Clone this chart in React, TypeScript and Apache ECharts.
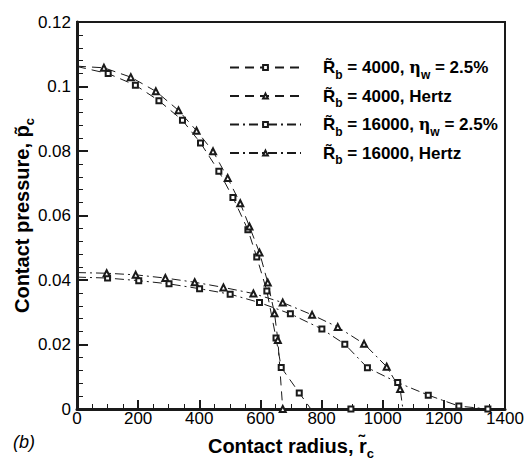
import React, { useEffect, useRef } from "react";
import * as echarts from "echarts";

// ---------- data ----------
const xTicks = [0, 200, 400, 600, 800, 1000, 1200, 1400];
const yTicks = [0, 0.02, 0.04, 0.06, 0.08, 0.1, 0.12];

// R_b = 4000, eta_w = 2.5%
const s1x = [0, 102, 191, 268, 345, 404, 464, 510, 559, 588, 621, 651, 668, 727, 765, 896];
const s1y = [0.1062, 0.104, 0.1004, 0.0956, 0.0895, 0.0825, 0.0737, 0.0656, 0.0556, 0.0471, 0.0366, 0.022, 0.0129, 0.005, 0, 0];
const s1m = [false, true, true, true, true, true, true, true, true, true, true, true, true, true, false, true];

// R_b = 4000, Hertz
const s2x = [0, 88, 176, 258, 332, 391, 445, 493, 534, 564, 597, 624, 646, 657, 673];
const s2y = [0.1063, 0.1058, 0.1029, 0.0985, 0.0926, 0.0863, 0.0799, 0.0716, 0.0638, 0.0566, 0.0485, 0.0392, 0.0297, 0.0214, 0];
const s2m = [false, true, true, true, true, true, true, true, true, true, true, true, true, true, true];

// R_b = 16000, eta_w = 2.5%
const s3x = [0, 100, 202, 301, 401, 501, 597, 698, 801, 876, 950, 1049, 1149, 1249, 1344];
const s3y = [0.0409, 0.0406, 0.0398, 0.0388, 0.0373, 0.0356, 0.033, 0.0295, 0.0248, 0.0201, 0.0128, 0.0082, 0.0043, 0.0009, 0];
const s3m = [false, true, true, true, true, true, true, true, true, true, true, true, true, true, true];

// R_b = 16000, Hertz
const s4x = [0, 97, 192, 289, 385, 479, 577, 673, 769, 853, 939, 1013, 1057, 1066];
const s4y = [0.0423, 0.0421, 0.0416, 0.0406, 0.0393, 0.0377, 0.0358, 0.033, 0.0292, 0.0254, 0.0202, 0.0131, 0.0062, 0];
const s4m = [false, true, true, true, true, true, true, true, true, true, true, true, true, false];

const legendLabels: Record<string, string> = {
  a: "{r0|R\u0303}{sub|b}{t| = 4000, }{eta|\u03b7}{sub|w}{t| = 2.5%}",
  b: "{r0|R\u0303}{sub|b}{t| = 4000, Hertz}",
  c: "{r0|R\u0303}{sub|b}{t| = 16000, }{eta|\u03b7}{sub|w}{t| = 2.5%}",
  d: "{r0|R\u0303}{sub|b}{t| = 16000, Hertz}",
};

const FONT = "'Liberation Sans', Arial, Helvetica, sans-serif";
const INK = "#1a1a1a";

function build(xs: number[], ys: number[], ms: boolean[]) {
  return xs.map((x, i) =>
    ms[i] ? { value: [x, ys[i]] } : { value: [x, ys[i]], symbol: "none" }
  );
}

export default function App() {
  const ref = useRef<HTMLDivElement>(null);

  useEffect(() => {
    if (!ref.current) return;
    const chart = echarts.init(ref.current, undefined, { renderer: "svg" });

    const dashed = [9, 6];
    const dashDot = [9, 4, 2, 4];

    const mk = (
      name: string,
      xs: number[],
      ys: number[],
      ms: boolean[],
      symbol: string,
      type: number[]
    ) => ({
      name,
      type: "line",
      data: build(xs, ys, ms),
      symbol,
      symbolSize: symbol === "emptyRect" ? 5 : 6,
      showSymbol: true,
      lineStyle: { color: INK, width: 1, type },
      itemStyle: { color: INK, borderColor: INK, borderWidth: 1 },
      emphasis: { disabled: true },
      z: 3,
    });

    const legendRich = {
      r0: {
        fontFamily: FONT,
        fontSize: 17,
        fontWeight: "bold",
        lineHeight: 26,
        padding: [0, 0, 0, 17],
        color: "#000",
      },
      t: {
        fontFamily: FONT,
        fontSize: 17,
        fontWeight: "bold",
        lineHeight: 26,
        color: "#000",
      },
      eta: {
        fontFamily: "'DejaVu Serif', serif",
        fontSize: 16,
        lineHeight: 26,
        color: "#000",
      },
      sub: {
        fontFamily: FONT,
        fontSize: 12,
        fontWeight: "bold",
        lineHeight: 12,
        verticalAlign: "bottom",
        color: "#000",
      },
    };

    const nameRich = {
      t: {
        fontFamily: FONT,
        fontSize: 20,
        fontWeight: "bold",
        lineHeight: 28,
        color: "#000",
      },
      sub: {
        fontFamily: FONT,
        fontSize: 13,
        fontWeight: "bold",
        lineHeight: 13,
        verticalAlign: "bottom",
        color: "#000",
      },
    };

    chart.setOption({
      animation: false,
      backgroundColor: "#ffffff",
      grid: {
        left: 77,
        right: 22,
        top: 22,
        bottom: 53,
        show: true,
        borderColor: INK,
        borderWidth: 2,
        containLabel: false,
        outerBoundsMode: "none",
      },
      legend: {
        orient: "vertical",
        left: 224,
        top: 54,
        itemWidth: 71,
        itemHeight: 6,
        itemGap: 7,
        selectedMode: false,
        data: ["a", "b", "c", "d"],
        formatter: (n: string) => legendLabels[n],
        textStyle: {
          color: "#000",
          fontFamily: FONT,
          fontSize: 17,
          fontWeight: "bold",
          rich: legendRich,
        },
      },
      xAxis: {
        type: "value",
        min: 0,
        max: 1400,
        interval: 200,
        name: "{t|Contact radius, r\u0303}{sub|c}",
        nameLocation: "middle",
        nameGap: 23,
        nameMoveOverlap: false,
        nameTextStyle: { rich: nameRich },
        axisLine: { show: true, lineStyle: { color: INK, width: 3 } },
        axisTick: { show: true, inside: true, length: 9, lineStyle: { color: INK, width: 2 } },
        minorTick: { show: true, splitNumber: 4, length: 5, lineStyle: { color: INK, width: 1 } },
        splitLine: { show: false },
        axisLabel: {
          color: "#000",
          fontFamily: FONT,
          fontSize: 17,
          margin: 1,
          formatter: (v: number) => (xTicks.includes(v) ? String(v) : ""),
        },
      },
      yAxis: {
        type: "value",
        min: 0,
        max: 0.12,
        interval: 0.02,
        name: "{t|Contact pressure, p\u0303}{sub|c}",
        nameLocation: "middle",
        nameRotate: 90,
        nameGap: 41,
        nameMoveOverlap: false,
        nameTextStyle: { rich: nameRich },
        axisLine: { show: true, lineStyle: { color: INK, width: 3 } },
        axisTick: { show: true, inside: true, length: 11, lineStyle: { color: INK, width: 2 } },
        minorTick: { show: true, splitNumber: 5, length: 6, lineStyle: { color: INK, width: 1 } },
        splitLine: { show: false },
        axisLabel: {
          color: "#000",
          fontFamily: FONT,
          fontSize: 17,
          margin: 6,
          formatter: (v: number) => {
            const hit = yTicks.find((t) => Math.abs(t - v) < 1e-9);
            return hit === undefined ? "" : String(+hit.toFixed(2));
          },
        },
      },
      graphic: [
        {
          type: "text",
          left: 13,
          top: 433,
          style: {
            text: "(b)",
            fontFamily: FONT,
            fontSize: 18,
            fontStyle: "italic",
            fill: "#000",
          },
        },
      ],
      series: [
        mk("a", s1x, s1y, s1m, "emptyRect", dashed),
        mk("b", s2x, s2y, s2m, "emptyTriangle", dashed),
        mk("c", s3x, s3y, s3m, "emptyRect", dashDot),
        mk("d", s4x, s4y, s4m, "emptyTriangle", dashDot),
      ],
    });

    return () => chart.dispose();
  }, []);

  return <div ref={ref} style={{ width: 527, height: 462, position: "absolute", left: 0, top: 0 }} />;
}
